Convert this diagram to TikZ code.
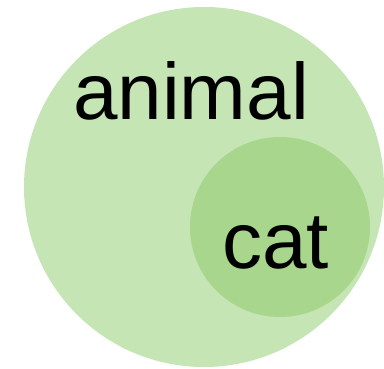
\documentclass[tikz,border=0pt]{standalone}
\usepackage{fontspec}
\setmainfont{Liberation Sans}
\definecolor{biggreen}{RGB}{197,229,181}
\definecolor{smallgreen}{RGB}{168,214,140}
\begin{document}
\begin{tikzpicture}[x=1pt,y=1pt,
  setcircle/.style={circle,inner sep=0pt,draw=none},
  setlabel/.style={anchor=base west,inner sep=0pt,font=\fontsize{80}{80}\selectfont,text=black}]
\useasboundingbox (0,0) rectangle (384,368);
\node[setcircle,fill=biggreen,minimum size=360pt] (animalset) at (204,181) {};
\node[setcircle,fill=smallgreen,minimum size=180pt] (catset) at (280,141) {};
\node[setlabel] (animallabel) at (73,248) {animal};
\node[setlabel] (catlabel) at (222,100) {cat};
\end{tikzpicture}
\end{document}
